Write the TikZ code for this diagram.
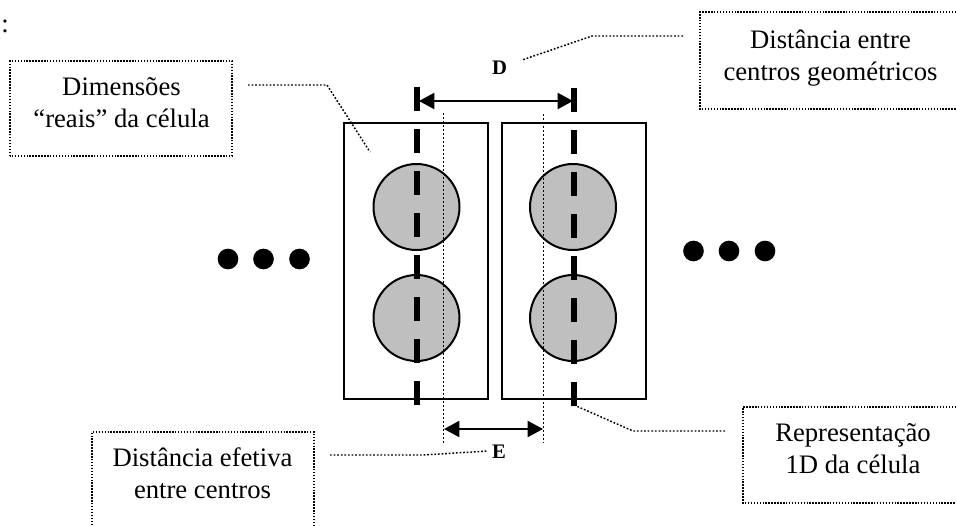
\documentclass[tikz,border=0pt]{standalone}
\usepackage{fontspec}
\setmainfont{Liberation Serif}
\usetikzlibrary{arrows.meta}
\tikzset{
  x=0.75pt,y=-0.75pt,
  cell/.style={draw=black,line width=1.5pt},
  disc/.style={circle,draw=black,line width=1.5pt,fill=black!25,minimum size=64.5pt,inner sep=0pt},
  dotmark/.style={circle,fill=black,minimum size=15.5pt,inner sep=0pt},
  axisline/.style={line width=4.5pt,dash pattern=on 18pt off 13.5pt},
  thindash/.style={line width=0.75pt,dash pattern=on 1.8pt off 1.2pt},
  leader/.style={line width=1.1pt,dash pattern=on 1.3pt off 1.4pt},
  callout/.style={line width=1.4pt,dash pattern=on 1.1pt off 1.1pt},
  dimarrow/.style={line width=1.5pt,{Triangle[length=11.5pt,width=12pt]}-{Triangle[length=11.5pt,width=12pt]}},
  labeltext/.style={font=\fontsize{20}{24}\selectfont,align=center,inner sep=0pt,anchor=base},
  dimlabel/.style={font=\fontsize{15.5}{19}\selectfont\bfseries,inner sep=0pt,anchor=base}
}
\begin{document}
\begin{tikzpicture}
\useasboundingbox (0,0) rectangle (957,525);
\fill[white] (0,0) rectangle (957,525);
% cells
\node[cell,minimum width=108pt,minimum height=207pt,inner sep=0pt] (cellL) at (416,261) {};
\node[cell,minimum width=108pt,minimum height=207pt,inner sep=0pt] (cellR) at (574,261) {};
% discs
\node[disc] (discLa) at (416.5,207) {};
\node[disc] (discLb) at (416.5,318) {};
\node[disc] (discRa) at (573,207) {};
\node[disc] (discRb) at (573,318) {};
% centre lines
\coordinate (axLt) at (416.7,87); \coordinate (axLb) at (416.7,405);
\coordinate (axRt) at (574.3,88); \coordinate (axRb) at (574.3,406);
\draw[axisline] (axLt) -- (axLb);
\draw[axisline] (axRt) -- (axRb);
% thin lines
\coordinate (efLt) at (443,113); \coordinate (efLb) at (443,445);
\coordinate (efRt) at (543,114); \coordinate (efRb) at (543,443);
\draw[thindash] (efLt) -- (efLb);
\draw[thindash] (efRt) -- (efRb);
% dimension arrows
\coordinate (dA) at (419,101); \coordinate (dB) at (573,101);
\coordinate (eA) at (444,429); \coordinate (eB) at (543,429);
\draw[dimarrow] (dA) -- (dB);
\draw[dimarrow] (eA) -- (eB);
\node[dimlabel] (labD) at (499.5,74) {D};
\node[dimlabel] (labE) at (499,458) {E};
% stray colon
\node[labeltext] (colon) at (5,32) {:};
% ellipsis dots
\foreach \n/\x in {a/228,b/263.5,c/299.5}{\node[dotmark] (l\n) at (\x,259) {};}
\foreach \n/\x in {a/693.5,b/729,c/765}{\node[dotmark] (r\n) at (\x,251) {};}
% callouts
\draw[callout] (10,156) rectangle (232,61);
\node[labeltext] (tDim) at (121.5,127) {Dimensões\\“reais” da célula};
\draw[callout] (956,12) -- (700,12) -- (700,109) -- (956,109);
\node[labeltext] (tGeo) at (830.5,80) {Distância entre\\centros geométricos};
\draw[callout] (956,407) -- (743,407) -- (743,503) -- (956,503);
\node[labeltext] (tRep) at (853,473) {Representação\\1D da célula};
\draw[callout] (92,525) -- (92,432) -- (314,432) -- (314,525);
\node[labeltext] (tEfe) at (202.5,498) {Distância efetiva\\entre centros};
% leaders
\coordinate (l1a) at (248,85); \coordinate (l1b) at (327,85); \coordinate (l1c) at (370,152);
\draw[leader] (l1a) -- (l1b) -- (l1c);
\coordinate (l2a) at (683,36); \coordinate (l2b) at (592,36); \coordinate (l2c) at (522,60);
\draw[leader] (l2a) -- (l2b) -- (l2c);
\coordinate (l3a) at (574,405); \coordinate (l3b) at (633,431); \coordinate (l3c) at (726,431);
\draw[leader] (l3a) -- (l3b) -- (l3c);
\coordinate (l4a) at (330,455); \coordinate (l4b) at (423,455); \coordinate (l4c) at (488,451);
\draw[leader] (l4a) -- (l4b) -- (l4c);
\end{tikzpicture}
\end{document}
